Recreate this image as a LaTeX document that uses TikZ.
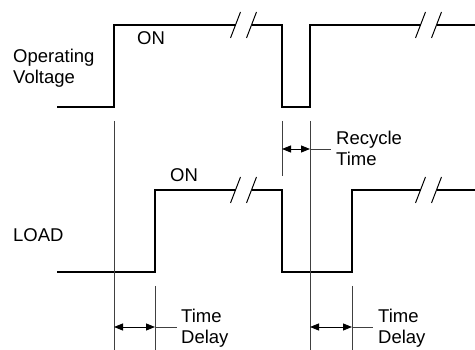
\documentclass[tikz,border=0pt]{standalone}
\usepackage{fontspec}
\setmainfont{Liberation Sans}
\usetikzlibrary{arrows.meta}
\begin{document}
\begin{tikzpicture}[x=1pt,y=-1pt,
  wave/.style={line width=1.4pt,black,line join=miter},
  guide/.style={line width=0.9pt,black!75},
  brk/.style={line width=1pt,black},
  dim/.style={line width=0.9pt,black,{Triangle[length=9pt,width=7pt]}-{Triangle[length=9pt,width=7pt]}},
  lbl/.style={anchor=base west,inner sep=0pt,font=\fontsize{18.5}{20.6}\selectfont}]
\useasboundingbox (0,0) rectangle (475,350);
% coordinates
\coordinate (a0) at (57,107);
\coordinate (a1) at (114,107);
\coordinate (a2) at (114,25);
\coordinate (a3) at (235.5,25);
\coordinate (a4) at (251.5,25);
\coordinate (a5) at (282,25);
\coordinate (a6) at (282,107);
\coordinate (a7) at (310,107);
\coordinate (a8) at (310,25);
\coordinate (a9) at (420.5,25);
\coordinate (a10) at (436.5,25);
\coordinate (a11) at (475,25);
\coordinate (b0) at (57,272);
\coordinate (b1) at (155,272);
\coordinate (b2) at (155,190);
\coordinate (b3) at (235.5,190);
\coordinate (b4) at (251.5,190);
\coordinate (b5) at (282,190);
\coordinate (b6) at (282,272);
\coordinate (b7) at (352,272);
\coordinate (b8) at (352,190);
\coordinate (b9) at (420.5,190);
\coordinate (b10) at (436.5,190);
\coordinate (b11) at (475,190);
% waveforms
\draw[wave] (a0) -- (a1) -- (a2) -- (a3);
\draw[wave] (a4) -- (a5) -- (a6) -- (a7) -- (a8) -- (a9);
\draw[wave] (a10) -- (a11);
\draw[wave] (b0) -- (b1) -- (b2) -- (b3);
\draw[wave] (b4) -- (b5) -- (b6) -- (b7) -- (b8) -- (b9);
\draw[wave] (b10) -- (b11);
% break marks
\foreach \c in {a3,a4,a9,a10,b3,b4,b9,b10}
  \draw[brk] ([shift={(-5,13)}]\c) -- ([shift={(5,-13)}]\c);
% guide lines
\coordinate (g1t) at (114,121); \coordinate (g1b) at (114,350);
\coordinate (g2t) at (282,121); \coordinate (g2b) at (282,176);
\coordinate (g3t) at (310,121); \coordinate (g3b) at (310,350);
\coordinate (g4t) at (155,286); \coordinate (g4b) at (155,350);
\coordinate (g5t) at (352,286); \coordinate (g5b) at (352,350);
\foreach \g in {g1,g2,g3,g4,g5} \draw[guide] (\g t) -- (\g b);
% dimension arrows
\coordinate (r1) at (282,149); \coordinate (r2) at (310,149); \coordinate (r3) at (331,149);
\draw[dim] (r1) -- (r2); \draw[guide] (r2) -- (r3);
\coordinate (d1) at (114,327); \coordinate (d2) at (155,327); \coordinate (d3) at (177,327);
\draw[dim] (d1) -- (d2); \draw[guide] (d2) -- (d3);
\coordinate (e1) at (310,327); \coordinate (e2) at (352,327); \coordinate (e3) at (373,327);
\draw[dim] (e1) -- (e2); \draw[guide] (e2) -- (e3);
% labels
\node[lbl] (op1) at (13,62.7) {Operating};
\node[lbl] (op2) at (13,83.3) {Voltage};
\node[lbl] (on1) at (137,45) {ON};
\node[lbl] (on2) at (170,181.7) {ON};
\node[lbl] (load) at (13,241.7) {LOAD};
\node[lbl] (rc1) at (336,145) {Recycle};
\node[lbl] (rc2) at (336,165.6) {Time};
\node[lbl] (td1) at (181,322.7) {Time};
\node[lbl] (td2) at (181,343.3) {Delay};
\node[lbl] (te1) at (378,322.7) {Time};
\node[lbl] (te2) at (378,343.3) {Delay};
\end{tikzpicture}
\end{document}
